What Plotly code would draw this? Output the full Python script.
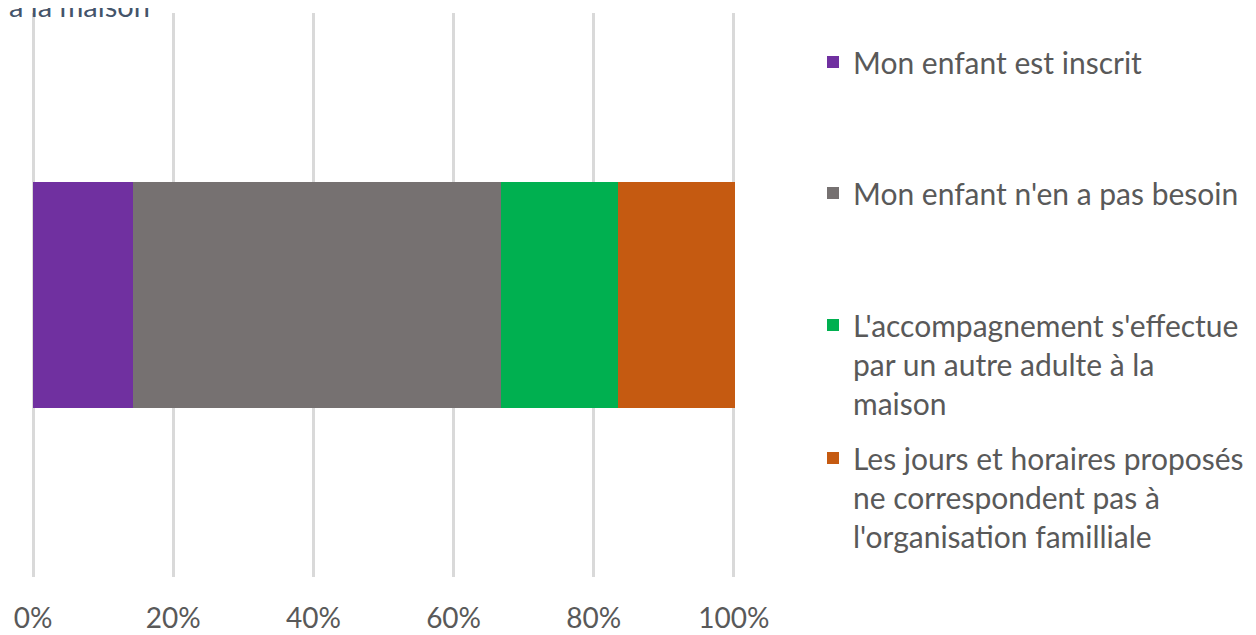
import plotly.graph_objects as go

# share of answers (single question, 100% stacked)
categories = [""]
series_names = [
    "Mon enfant est inscrit",
    "Mon enfant n'en a pas besoin",
    "L'accompagnement s'effectue<br>par un autre adulte à la<br>maison",
    "Les jours et horaires proposés<br>ne correspondent pas à<br>l'organisation familliale",
]
series_values = [0.143, 0.524, 0.167, 0.167]
colors = ["#7030a0", "#767171", "#00b050", "#c55a11"]
tick_vals = [0, 0.2, 0.4, 0.6, 0.8, 1.0]
tick_text = ["0%", "20%", "40%", "60%", "80%", "100%"]

FONT = "Lato"
TEXT = "#595959"
W, H = 1248, 627          # page body adds an 8px offset
legend_tops = [64, 195, 327, 460]

fig = go.Figure()
legend_ids = ["legend", "legend2", "legend3", "legend4"]
for name, val, col, lid in zip(series_names, series_values, colors, legend_ids):
    fig.add_trace(go.Bar(
        y=categories, x=[val], name=name, orientation="h",
        marker=dict(color=col, line=dict(width=0)),
        width=0.4, legend=lid, hoverinfo="name+x",
    ))

layout_legends = {}
for lid, top in zip(legend_ids, legend_tops):
    layout_legends[lid] = dict(
        xref="container", yref="container",
        x=805 / W, y=1 - (top - 36) / H,
        xanchor="left", yanchor="top", valign="top",
        bgcolor="rgba(0,0,0,0)", font=dict(family=FONT, size=30, color=TEXT),
    )

fig.update_layout(
    width=W, height=H,
    margin=dict(l=23, r=520, t=5, b=58, autoexpand=False),
    paper_bgcolor="white", plot_bgcolor="white",
    barmode="stack", bargap=0,
    showlegend=True,
    xaxis=dict(range=[-0.003, 1.003], tickvals=tick_vals, ticktext=tick_text,
               showgrid=True, gridcolor="#d9d9d9", gridwidth=3,
               zeroline=False, showline=False, ticks="", automargin=False,
               tickfont=dict(family=FONT, size=28, color=TEXT),
               ticklabelstandoff=22),
    yaxis=dict(range=[-0.5, 0.5], visible=False),
    annotations=[dict(
        text="à la maison", xref="paper", yref="paper",
        x=-24 / 705, y=571 / 564, xanchor="left", yanchor="middle",
        showarrow=False, font=dict(family=FONT, size=29, color="#44546a"),
    )],
    **layout_legends,
)

fig.write_html("out.html")
